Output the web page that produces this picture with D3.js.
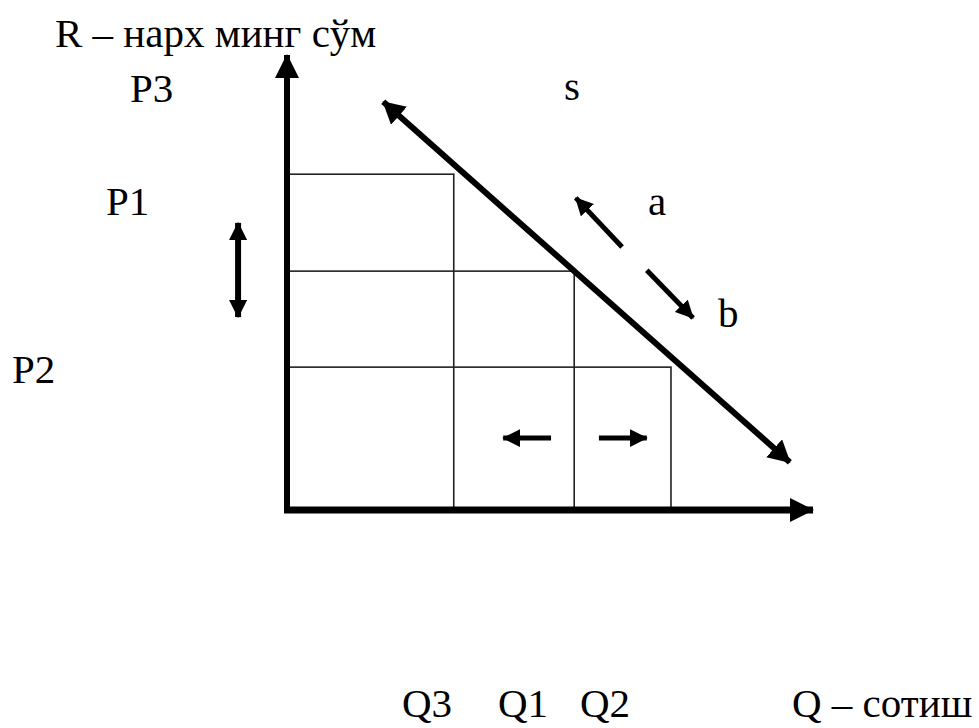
<!DOCTYPE html>
<html>
<head>
<meta charset="utf-8">
<script src="https://cdn.jsdelivr.net/npm/d3@7"></script>
<style>
  html, body { margin: 0; padding: 0; background: #fff; }
</style>
</head>
<body>
<div id="chart"></div>
<script>
// quantity / price levels (arbitrary units)
const quantityNames = ["Q3", "Q1", "Q2"]
const quantityValues = [31.7, 54.6, 73.0]
const priceNames = ["P1", "P2", "P3"]
const priceValues = [73.8, 52.5, 31.4]   // rectangle tops for Q3, Q1, Q2

// demand line s, from top-left to bottom-right
const demandLine = [{ q: 18.3, p: 89.7 }, { q: 95.6, p: 10.5 }]

// movement arrows along the line (from, to)
const arrowA = [{ q: 63.7, p: 57.8 }, { q: 54.9, p: 68.6 }]
const arrowB = [{ q: 68.4, p: 52.7 }, { q: 77.2, p: 42.2 }]
// quantity arrows
const arrowLeft = [{ q: 50.2, p: 15.8 }, { q: 41.1, p: 15.8 }]
const arrowRight = [{ q: 59.3, p: 15.8 }, { q: 68.4, p: 15.8 }]
// price double arrow (left of the axis)
const arrowPrice = [{ q: -9.3, p: 63.1 }, { q: -9.3, p: 42.4 }]

const width = 979
const height = 728

const x = d3.scaleLinear().domain([0, 100]).range([287, 813])
const y = d3.scaleLinear().domain([0, 100]).range([510, 55])

const svg = d3.select("#chart").append("svg")
  .attr("width", width)
  .attr("height", height)

// arrow heads
const defs = svg.append("defs")
function head(id, w, l) {
  defs.append("marker")
    .attr("id", id)
    .attr("markerUnits", "userSpaceOnUse")
    .attr("viewBox", `0 ${-w / 2} ${l} ${w}`)
    .attr("refX", l - 1)
    .attr("refY", 0)
    .attr("markerWidth", l)
    .attr("markerHeight", w)
    .attr("orient", "auto-start-reverse")
    .append("path")
    .attr("d", `M0,${-w / 2}L${l},0L0,${w / 2}Z`)
    .attr("fill", "#000")
}
head("axisHead", 24, 24)
head("bigHead", 24, 22)
head("smallHead", 18, 18)

// staircase of rectangles
svg.append("g")
  .selectAll("rect")
  .data(quantityValues)
  .join("rect")
  .attr("x", x(0))
  .attr("y", (d, i) => y(priceValues[i]))
  .attr("width", d => x(d) - x(0))
  .attr("height", (d, i) => y(0) - y(priceValues[i]))
  .attr("fill", "none")
  .attr("stroke", "#222")
  .attr("stroke-width", 1.6)

// axes
svg.append("line")
  .attr("x1", x(0)).attr("y1", y(0) + 3)
  .attr("x2", x(0)).attr("y2", y(100))
  .attr("stroke", "#000").attr("stroke-width", 6)
  .attr("marker-end", "url(#axisHead)")
svg.append("line")
  .attr("x1", x(0) - 3).attr("y1", y(0))
  .attr("x2", x(100)).attr("y2", y(0))
  .attr("stroke", "#000").attr("stroke-width", 7)
  .attr("marker-end", "url(#axisHead)")

const line = d3.line().x(d => x(d.q)).y(d => y(d.p))

svg.append("path")
  .datum(demandLine)
  .attr("d", line)
  .attr("stroke", "#000").attr("stroke-width", 6).attr("fill", "none")
  .attr("marker-start", "url(#bigHead)")
  .attr("marker-end", "url(#bigHead)")

const small = [arrowA, arrowB, arrowLeft, arrowRight]
svg.append("g")
  .selectAll("path")
  .data(small)
  .join("path")
  .attr("d", line)
  .attr("stroke", "#000").attr("stroke-width", 5).attr("fill", "none")
  .attr("marker-end", "url(#smallHead)")

svg.append("path")
  .datum(arrowPrice)
  .attr("d", line)
  .attr("stroke", "#000").attr("stroke-width", 6).attr("fill", "none")
  .attr("marker-start", "url(#smallHead)")
  .attr("marker-end", "url(#smallHead)")

// labels
function label(sel) {
  return sel.attr("font-family", "'Liberation Serif', monospace")
    .attr("font-size", 41)
    .attr("fill", "#000")
}
label(svg.append("text").attr("x", 55).attr("y", 47).text("R – нарх минг сўм"))
const pLabelPos = { P3: [130, 102], P1: [106, 215], P2: [12, 383] }
label(svg.append("g").selectAll("text")
  .data(priceNames)
  .join("text")
  .attr("x", d => pLabelPos[d][0])
  .attr("y", d => pLabelPos[d][1])
  .text(d => d))

const qLabelX = { Q3: 402, Q1: 498, Q2: 580 }
label(svg.append("g").selectAll("text")
  .data(quantityNames)
  .join("text")
  .attr("x", d => qLabelX[d])
  .attr("y", 717)
  .text(d => d))
label(svg.append("text").attr("x", 792).attr("y", 717).text("Q – сотиш"))

label(svg.append("text").attr("x", 564).attr("y", 100).text("s"))
label(svg.append("text").attr("x", 648).attr("y", 215).text("a"))
label(svg.append("text").attr("x", 718).attr("y", 327).text("b"))
</script>
</body>
</html>
